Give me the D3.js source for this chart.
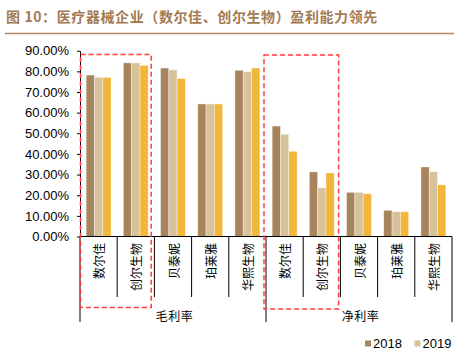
<!DOCTYPE html>
<html><head><meta charset="utf-8">
<script src="https://cdn.jsdelivr.net/npm/d3@7"></script>
<style>body{margin:0;background:#fff} svg{display:block}</style>
</head><body><svg id="c" width="454" height="356"></svg>
<script>
const title = "图 10：医疗器械企业（数尔佳、创尔生物）盈利能力领先";
const companies = ["数尔佳", "创尔生物", "贝泰妮", "珀莱雅", "华熙生物"];
const metrics = ["毛利率", "净利率"];
const series = ["2018", "2019", "2020"];
const legendShown = ["2018", "2019"];
const gross2018 = [78.2, 84.1, 81.6, 64.2, 80.5];
const gross2019 = [77.1, 84.1, 80.7, 64.2, 79.8];
const gross2020 = [77.1, 82.9, 76.5, 64.2, 81.6];
const net2018 = [53.5, 31.3, 21.4, 12.7, 33.7];
const net2019 = [49.5, 23.6, 21.4, 12.0, 31.4];
const net2020 = [41.3, 30.8, 20.7, 12.0, 25.0];
const yTicks = [0, 10, 20, 30, 40, 50, 60, 70, 80, 90];
const highlighted = ["数尔佳", "创尔生物"];

const colors = {"2018": "#A8845C", "2019": "#D6C39C", "2020": "#F2B63A"};
const valueTable = {
  "毛利率": {"2018": gross2018, "2019": gross2019, "2020": gross2020},
  "净利率": {"2018": net2018, "2019": net2019, "2020": net2020}
};

const rows = [];
metrics.forEach(m => companies.forEach((c, i) => {
  rows.push({key: m + "|" + c, metric: m, company: c,
    vals: series.map(s => ({s, v: valueTable[m][s][i]}))});
}));

const svg = d3.select("#c");
const cjk = "'Noto Sans CJK SC', 'Noto Sans', sans-serif";
const latin = "'Liberation Sans', Arial, sans-serif";

// title
svg.append("text").attr("x", 6).attr("y", 22)
  .attr("font-family", cjk).attr("font-size", 14).attr("font-weight", "bold")
  .attr("letter-spacing", 0.6).attr("fill", "#A27A52").text(title);
svg.append("line").attr("x1", 5).attr("x2", 454).attr("y1", 33.5).attr("y2", 33.5)
  .attr("stroke", "#B08762").attr("stroke-width", 1.5);

const x0 = d3.scaleBand().domain(rows.map(r => r.key)).range([80, 452]).padding(0);
const x1 = d3.scaleBand().domain(series).range([0, x0.bandwidth()]).paddingInner(0).paddingOuter(0.74);
const y = d3.scaleLinear().domain([0, 90]).range([236.5, 50.7]);

// y axis
const yAxis = d3.axisLeft(y).tickValues(yTicks).tickSize(3).tickSizeOuter(0).tickPadding(8)
  .tickFormat(d => d.toFixed(2) + "%");
const ya = svg.append("g").attr("transform", "translate(80,0)").call(yAxis);
ya.selectAll("text").attr("font-family", latin).attr("font-size", 13).attr("fill", "#000");
ya.selectAll("line,path").attr("stroke", "#000");

// bars
const g = svg.append("g");
g.selectAll("g.cat").data(rows).join("g").attr("class", "cat")
  .attr("transform", d => `translate(${x0(d.key)},0)`)
  .selectAll("rect").data(d => d.vals).join("rect")
  .attr("x", d => x1(d.s)).attr("width", x1.bandwidth())
  .attr("y", d => y(d.v)).attr("height", d => y(0) - y(d.v))
  .attr("fill", d => colors[d.s])
  .attr("stroke", "rgba(255,255,255,0.55)").attr("stroke-width", 0.7);

// x axis line
const xEnd = x0.range()[1];
svg.append("line").attr("x1", 80).attr("x2", xEnd).attr("y1", y(0)).attr("y2", y(0))
  .attr("stroke", "#000").attr("stroke-width", 1);

// separators
const bounds = rows.map(r => x0(r.key)).concat([xEnd]);
bounds.forEach((bx, i) => {
  const major = i % companies.length === 0;
  svg.append("line").attr("x1", bx).attr("x2", bx)
    .attr("y1", y(0)).attr("y2", major ? 322 : 297)
    .attr("stroke", "#000").attr("stroke-width", 1);
});

// category labels (rotated)
svg.selectAll("text.cat").data(rows).join("text").attr("class", "cat")
  .attr("transform", d => `translate(${x0(d.key) + x0.bandwidth() / 2},243) rotate(-90)`)
  .attr("text-anchor", "end").attr("dominant-baseline", "central")
  .attr("font-family", cjk).attr("font-size", 12).attr("fill", "#000")
  .text(d => d.company);

// metric labels
metrics.forEach(m => {
  const first = x0(m + "|" + companies[0]);
  const last = x0(m + "|" + companies[companies.length - 1]) + x0.bandwidth();
  svg.append("text").attr("x", (first + last) / 2 + 1.5).attr("y", 315)
    .attr("text-anchor", "middle").attr("dominant-baseline", "central")
    .attr("font-family", cjk).attr("font-size", 12).attr("letter-spacing", 0.5)
    .attr("fill", "#000").text(m);
});

// highlight boxes
metrics.forEach((m, mi) => {
  const l = x0(m + "|" + highlighted[0]);
  const r = x0(m + "|" + highlighted[highlighted.length - 1]) + x0.bandwidth();
  const left = mi === 0 ? l + 0.5 : l - 2;
  const right = r - (mi === 0 ? 3.2 : 1.8);
  const top = mi === 0 ? 54.5 : 55;
  const bottom = mi === 0 ? 307.5 : 309;
  svg.append("rect").attr("x", left).attr("y", top)
    .attr("width", right - left).attr("height", bottom - top)
    .attr("fill", "none").attr("stroke", "#FF3B3B").attr("stroke-width", 1.5)
    .attr("stroke-dasharray", "5,3");
});

// legend
const lg = svg.append("g").attr("transform", "translate(365,343.5)");
legendShown.forEach((s, i) => {
  const gx = i * 49.5;
  lg.append("rect").attr("x", gx).attr("y", -3).attr("width", 6).attr("height", 6).attr("fill", colors[s]);
  lg.append("text").attr("x", gx + 8).attr("y", 0).attr("dominant-baseline", "central")
    .attr("font-family", latin).attr("font-size", 13).attr("fill", "#000").text(s);
});
</script></body></html>
